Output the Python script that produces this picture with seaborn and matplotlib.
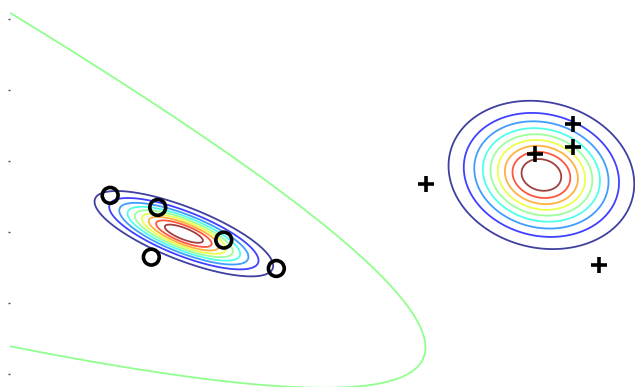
import numpy as np
import pandas as pd
import matplotlib
matplotlib.use("Agg")
import matplotlib.pyplot as plt
import seaborn as sns

# training points, two classes
class1_x = [1.41, 2.08, 3.01, 1.99, 3.75]
class1_y = [2.52, 2.35, 1.89, 1.65, 1.49]
class2_x = [5.86, 7.39, 7.93, 7.93, 8.30]
class2_y = [2.68, 3.10, 3.52, 3.20, 1.54]

y_ticks = [0, 1, 2, 3, 4, 5]
level_fracs = [0.1, 0.2, 0.3, 0.4, 0.5, 0.6, 0.7, 0.8, 0.9]


def fit_gauss(xs, ys):
    pts = np.column_stack([xs, ys])
    mu = pts.mean(axis=0)
    # ML covariance, density taken as exp(-d' C^-1 d)
    cov = np.cov(pts.T, bias=True) / 2.0
    return mu, cov


def log_density(X, Y, mu, cov):
    inv = np.linalg.inv(cov)
    dx = X - mu[0]
    dy = Y - mu[1]
    m = inv[0, 0] * dx * dx + 2 * inv[0, 1] * dx * dy + inv[1, 1] * dy * dy
    return -0.5 * m - 0.5 * np.log(np.linalg.det(cov))


sns.set_style("white")
fig = plt.figure(figsize=(6.35, 3.9), dpi=100)
ax = fig.add_axes([10 / 635, 3 / 390, 625 / 635, 379 / 390])

gx = np.linspace(0, 8.8, 500)
gy = np.linspace(-0.2, 5.2, 400)
X, Y = np.meshgrid(gx, gy)

mu1, cov1 = fit_gauss(class1_x, class1_y)
mu2, cov2 = fit_gauss(class2_x, class2_y)
l1 = log_density(X, Y, mu1, cov1)
l2 = log_density(X, Y, mu2, cov2)

for l in (l1, l2):
    p = np.exp(l - l.max())
    ax.contour(X, Y, p, levels=level_fracs, cmap="jet", linewidths=1.3, alpha=0.75)

# decision boundary where both class densities are equal
ax.contour(X, Y, l1 - l2, levels=[0], colors=[plt.cm.jet(0.5)], linewidths=1.3, alpha=0.85)

df1 = pd.DataFrame({"x": class1_x, "y": class1_y})
df2 = pd.DataFrame({"x": class2_x, "y": class2_y})
sns.scatterplot(data=df1, x="x", y="y", ax=ax, marker="o", s=130,
                facecolors="none", edgecolor="k", linewidth=2.6, zorder=5)
sns.scatterplot(data=df2, x="x", y="y", ax=ax, marker="+", s=140,
                color="k", linewidth=2.6, zorder=5)

ax.set_xlim(0, 8.8)
ax.set_ylim(-0.18, 5.16)
ax.set_yticks(y_ticks)
ax.set_xticks([])
ax.tick_params(axis="y", length=1.5, width=1, color="0.3", labelleft=False, left=True)
ax.set_xlabel("")
ax.set_ylabel("")
for s in ax.spines.values():
    s.set_visible(False)

fig.savefig("out.png", dpi=100)
